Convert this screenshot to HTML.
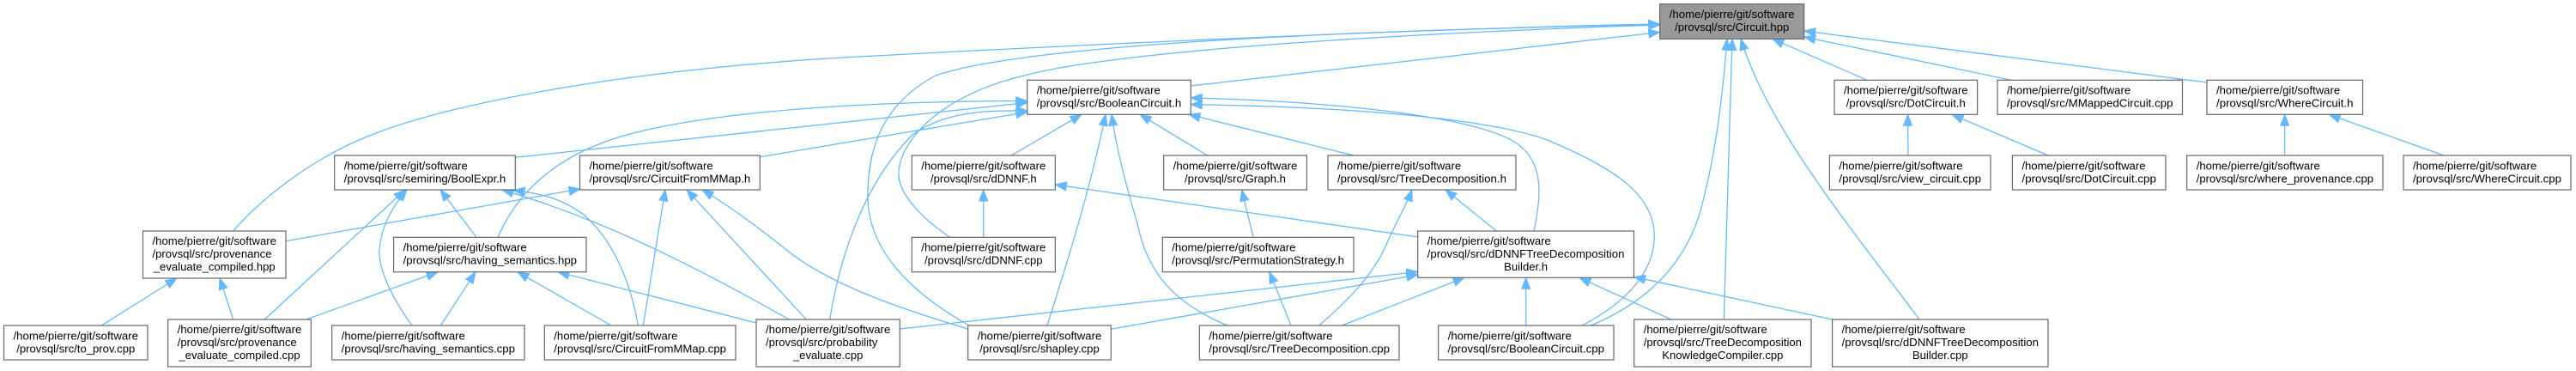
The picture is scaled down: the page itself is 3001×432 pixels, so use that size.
<!DOCTYPE html>
<html><head><meta charset="utf-8"><title>Circuit.hpp include graph</title>
<style>
html,body{margin:0;padding:0;background:#fff;overflow:hidden;}
svg{display:block;}
text{font-family:"Liberation Sans",Arial,sans-serif;font-size:13.1px;fill:#000;}
.e{fill:none;stroke:#63b8ff;stroke-width:1.25;marker-end:url(#a);}
.n{fill:#fff;stroke:#666;stroke-width:1.2;}
.m{text-anchor:middle;}
</style></head>
<body>
<svg width="3001" height="432" viewBox="0 0 3001 432" xmlns="http://www.w3.org/2000/svg">
<defs>
<marker id="a" markerUnits="userSpaceOnUse" markerWidth="15" markerHeight="12" viewBox="0 0 15 12" refX="13.5" refY="6" orient="auto">
<path d="M0.5,1 L13.5,6 L0.5,11 z" fill="#63b8ff" stroke="#63b8ff" stroke-width="1"/>
</marker>
</defs>
<rect x="0" y="0" width="3001" height="432" fill="#fff"/>

<!-- edges -->
<path class="e" d="M271.7,269 C300,236 360,185 433,157 C530,118 750,78 1020,65 C1300,50 1700,32 1933.7,28"/>
<path class="e" d="M1128,378.5 C1060,340 1010,290 1011,227 C1011,170 1030,120 1090,88 C1200,50 1600,35 1933.7,28.5"/>
<path class="e" d="M1106.7,276.3 C1075,255 1045,225 1047,200 C1050,160 1100,110 1193,88 C1300,60 1600,40 1933.7,29"/>
<path class="e" d="M1387.3,100 L1933.7,37.5"/>
<path class="e" d="M2175,93.3 L2065,45.3"/>
<path class="e" d="M2343,93.3 L2101.7,43"/>
<path class="e" d="M2571,96 L2101.7,36"/>
<path class="e" d="M2008.3,372 L2018,45.3"/>
<path class="e" d="M1853.3,379 C1935,345 1972,290 1985,230 C2000,170 2008,100 2012,45.3"/>
<path class="e" d="M2236,372 C2160,270 2060,150 2028,45.3"/>
<path class="e" d="M600.3,183.3 L1196.7,119.5"/>
<path class="e" d="M885.3,182.7 L1196.7,130.5"/>
<path class="e" d="M580,276.3 C600,230 640,185 720,160 C820,130 1000,118 1196.7,117.5"/>
<path class="e" d="M966.7,372 C980,290 1010,210 1063,157 C1100,130 1150,128 1196.7,129"/>
<path class="e" d="M1178.3,181 L1260,133.3"/>
<path class="e" d="M1220,379 C1245,300 1270,220 1288,133.3"/>
<path class="e" d="M1430,379 C1360,350 1335,310 1325,260 C1310,210 1300,170 1295,133.3"/>
<path class="e" d="M1406.7,181 L1328,133.3"/>
<path class="e" d="M1577,181 L1385,133.3"/>
<path class="e" d="M1787,269 C1795,230 1800,190 1767,167 C1720,135 1550,118 1387.3,114"/>
<path class="e" d="M1843,379 C1895,352 1930,315 1927,270 C1924,225 1880,195 1800,162 C1720,135 1550,124 1387.3,121.7"/>
<path class="e" d="M308.3,372 L472,221"/>
<path class="e" d="M480,379 C455,345 440,310 442,290 C445,260 458,240 474,221"/>
<path class="e" d="M555,276.3 L513,221"/>
<path class="e" d="M919.3,372 C800,305 700,255 585,221"/>
<path class="e" d="M743.3,379 C735,330 715,280 680,250 C650,228 625,225 598,221.5"/>
<path class="e" d="M333,280.7 L676,220"/>
<path class="e" d="M749.3,379 L775,221"/>
<path class="e" d="M939.3,372 L800,221"/>
<path class="e" d="M1128,383.3 C1060,362 970,335 915,290 C880,262 850,240 818,221"/>
<path class="e" d="M356.7,372 L510,316.7"/>
<path class="e" d="M513.4,379 L554,316.7"/>
<path class="e" d="M712,379 L603,316.7"/>
<path class="e" d="M881,376 L650,316.7"/>
<path class="e" d="M118.3,379 L206,324"/>
<path class="e" d="M271.7,372 L256,324"/>
<path class="e" d="M1145.7,276.3 L1145.7,221"/>
<path class="e" d="M1651.7,276 L1229.3,215"/>
<path class="e" d="M1460,276.3 L1446.7,221"/>
<path class="e" d="M1536.7,379 C1570,350 1600,320 1615,285 C1628,255 1638,240 1645,221"/>
<path class="e" d="M1743.3,269 L1684,221"/>
<path class="e" d="M1504,379 L1479,316.7"/>
<path class="e" d="M1048.3,383 L1651.7,316.5"/>
<path class="e" d="M1294.3,383.3 L1651.7,320"/>
<path class="e" d="M1563.3,379 L1706,323.3"/>
<path class="e" d="M1777.7,379 L1777.7,323.3"/>
<path class="e" d="M1946.7,372 L1840,323.3"/>
<path class="e" d="M2134.6,372 L1903.5,322.5"/>
<path class="e" d="M2223,181 L2222.5,133.3"/>
<path class="e" d="M2386,181 L2274,133.3"/>
<path class="e" d="M2661.7,181 L2661.7,133.3"/>
<path class="e" d="M2846.7,181 L2713.3,133.3"/>

<!-- nodes -->
<!-- Row 0 -->
<rect x="1933.7" y="4.7" width="168" height="40.6" fill="#999" stroke="#666" stroke-width="1.2"/>
<text x="1944.7" y="21" textLength="146" lengthAdjust="spacingAndGlyphs">/home/pierre/git/software</text>
<text class="m" x="2017.7" y="36">/provsql/src/Circuit.hpp</text>

<!-- Row 1 -->
<rect class="n" x="1196.7" y="93.3" width="190.6" height="40"/>
<text x="1207.7" y="109.6">/home/pierre/git/software</text>
<text class="m" x="1292" y="124.6" textLength="168.6" lengthAdjust="spacingAndGlyphs">/provsql/src/BooleanCircuit.h</text>

<rect class="n" x="2137" y="93.3" width="166.6" height="40"/>
<text x="2148" y="109.6" textLength="144.6" lengthAdjust="spacingAndGlyphs">/home/pierre/git/software</text>
<text class="m" x="2220.3" y="124.6">/provsql/src/DotCircuit.h</text>

<rect class="n" x="2327" y="93.3" width="215.5" height="40"/>
<text x="2338" y="109.6">/home/pierre/git/software</text>
<text class="m" x="2434.75" y="124.6" textLength="193.5" lengthAdjust="spacingAndGlyphs">/provsql/src/MMappedCircuit.cpp</text>

<rect class="n" x="2571" y="93.3" width="181.5" height="40"/>
<text x="2582" y="109.6">/home/pierre/git/software</text>
<text class="m" x="2661.75" y="124.6" textLength="159.5" lengthAdjust="spacingAndGlyphs">/provsql/src/WhereCircuit.h</text>

<!-- Row 2 -->
<rect class="n" x="389.7" y="181" width="210.6" height="40"/>
<text x="400.7" y="197.3">/home/pierre/git/software</text>
<text class="m" x="495" y="212.3" textLength="188.6" lengthAdjust="spacingAndGlyphs">/provsql/src/semiring/BoolExpr.h</text>

<rect class="n" x="675.5" y="181" width="209.8" height="40"/>
<text x="686.5" y="197.3">/home/pierre/git/software</text>
<text class="m" x="780.4" y="212.3" textLength="187.8" lengthAdjust="spacingAndGlyphs">/provsql/src/CircuitFromMMap.h</text>

<rect class="n" x="1062.3" y="181" width="167" height="40"/>
<text x="1073.3" y="197.3" textLength="145" lengthAdjust="spacingAndGlyphs">/home/pierre/git/software</text>
<text class="m" x="1145.8" y="212.3">/provsql/src/dDNNF.h</text>

<rect class="n" x="1355.7" y="181" width="166.7" height="40"/>
<text x="1366.7" y="197.3" textLength="144.7" lengthAdjust="spacingAndGlyphs">/home/pierre/git/software</text>
<text class="m" x="1439" y="212.3">/provsql/src/Graph.h</text>

<rect class="n" x="1547" y="181" width="219" height="40"/>
<text x="1558" y="197.3">/home/pierre/git/software</text>
<text class="m" x="1656.5" y="212.3" textLength="197" lengthAdjust="spacingAndGlyphs">/provsql/src/TreeDecomposition.h</text>

<rect class="n" x="2131.4" y="181" width="187.6" height="40"/>
<text x="2142.4" y="197.3">/home/pierre/git/software</text>
<text class="m" x="2225.2" y="212.3" textLength="165.6" lengthAdjust="spacingAndGlyphs">/provsql/src/view_circuit.cpp</text>

<rect class="n" x="2344.4" y="181" width="178.6" height="40"/>
<text x="2355.4" y="197.3">/home/pierre/git/software</text>
<text class="m" x="2433.7" y="212.3" textLength="156.6" lengthAdjust="spacingAndGlyphs">/provsql/src/DotCircuit.cpp</text>

<rect class="n" x="2547.7" y="181" width="228.3" height="40"/>
<text x="2558.7" y="197.3">/home/pierre/git/software</text>
<text class="m" x="2661.85" y="212.3" textLength="206.3" lengthAdjust="spacingAndGlyphs">/provsql/src/where_provenance.cpp</text>

<rect class="n" x="2800" y="181" width="195" height="40"/>
<text x="2811" y="197.3">/home/pierre/git/software</text>
<text class="m" x="2897.5" y="212.3" textLength="173" lengthAdjust="spacingAndGlyphs">/provsql/src/WhereCircuit.cpp</text>

<!-- Row 3 -->
<rect class="n" x="166.5" y="269" width="166.5" height="55"/>
<text x="177.5" y="285" textLength="144.5" lengthAdjust="spacingAndGlyphs">/home/pierre/git/software</text>
<text x="177.5" y="300">/provsql/src/provenance</text>
<text class="m" x="249.75" y="315">_evaluate_compiled.hpp</text>

<rect class="n" x="458.6" y="276.3" width="224.4" height="40.4"/>
<text x="469.6" y="292.6">/home/pierre/git/software</text>
<text class="m" x="570.8" y="307.6" textLength="202.4" lengthAdjust="spacingAndGlyphs">/provsql/src/having_semantics.hpp</text>

<rect class="n" x="1062.3" y="276.3" width="167" height="40.4"/>
<text x="1073.3" y="292.6" textLength="145" lengthAdjust="spacingAndGlyphs">/home/pierre/git/software</text>
<text class="m" x="1145.8" y="307.6">/provsql/src/dDNNF.cpp</text>

<rect class="n" x="1354.3" y="276.3" width="222.7" height="40.4"/>
<text x="1365.3" y="292.6">/home/pierre/git/software</text>
<text class="m" x="1465.65" y="307.6" textLength="200.7" lengthAdjust="spacingAndGlyphs">/provsql/src/PermutationStrategy.h</text>

<rect class="n" x="1651.7" y="269" width="251.8" height="54.3"/>
<text x="1662.7" y="285">/home/pierre/git/software</text>
<text x="1662.7" y="300" textLength="229.8" lengthAdjust="spacingAndGlyphs">/provsql/src/dDNNFTreeDecomposition</text>
<text class="m" x="1777.6" y="315">Builder.h</text>

<!-- Row 4 -->
<rect class="n" x="4.5" y="379" width="167.5" height="40"/>
<text x="15.5" y="395.3" textLength="145.5" lengthAdjust="spacingAndGlyphs">/home/pierre/git/software</text>
<text class="m" x="88.25" y="410.3">/provsql/src/to_prov.cpp</text>

<rect class="n" x="195.7" y="372" width="166.6" height="55"/>
<text x="206.7" y="388" textLength="144.6" lengthAdjust="spacingAndGlyphs">/home/pierre/git/software</text>
<text x="206.7" y="403">/provsql/src/provenance</text>
<text class="m" x="279" y="418">_evaluate_compiled.cpp</text>

<rect class="n" x="386.7" y="379" width="224.3" height="40"/>
<text x="397.7" y="395.3">/home/pierre/git/software</text>
<text class="m" x="498.85" y="410.3" textLength="202.3" lengthAdjust="spacingAndGlyphs">/provsql/src/having_semantics.cpp</text>

<rect class="n" x="634.3" y="379" width="222.7" height="40"/>
<text x="645.3" y="395.3">/home/pierre/git/software</text>
<text class="m" x="745.65" y="410.3" textLength="200.7" lengthAdjust="spacingAndGlyphs">/provsql/src/CircuitFromMMap.cpp</text>

<rect class="n" x="881" y="372" width="167.3" height="55"/>
<text x="892" y="388" textLength="145.3" lengthAdjust="spacingAndGlyphs">/home/pierre/git/software</text>
<text x="892" y="403">/provsql/src/probability</text>
<text class="m" x="964.65" y="418">_evaluate.cpp</text>

<rect class="n" x="1127.7" y="379" width="166.6" height="40"/>
<text x="1138.7" y="395.3" textLength="144.6" lengthAdjust="spacingAndGlyphs">/home/pierre/git/software</text>
<text class="m" x="1211" y="410.3">/provsql/src/shapley.cpp</text>

<rect class="n" x="1397.3" y="379" width="232.7" height="40"/>
<text x="1408.3" y="395.3">/home/pierre/git/software</text>
<text class="m" x="1513.65" y="410.3" textLength="210.7" lengthAdjust="spacingAndGlyphs">/provsql/src/TreeDecomposition.cpp</text>

<rect class="n" x="1675.7" y="379" width="204.3" height="40"/>
<text x="1686.7" y="395.3">/home/pierre/git/software</text>
<text class="m" x="1777.85" y="410.3" textLength="182.3" lengthAdjust="spacingAndGlyphs">/provsql/src/BooleanCircuit.cpp</text>

<rect class="n" x="1903.7" y="372" width="206.3" height="55"/>
<text x="1914.7" y="388">/home/pierre/git/software</text>
<text x="1914.7" y="403" textLength="184.3" lengthAdjust="spacingAndGlyphs">/provsql/src/TreeDecomposition</text>
<text class="m" x="2006.85" y="418">KnowledgeCompiler.cpp</text>

<rect class="n" x="2134.6" y="372" width="251.4" height="55"/>
<text x="2145.6" y="388">/home/pierre/git/software</text>
<text x="2145.6" y="403" textLength="229.4" lengthAdjust="spacingAndGlyphs">/provsql/src/dDNNFTreeDecomposition</text>
<text class="m" x="2260.3" y="418">Builder.cpp</text>
</svg>
</body></html>
